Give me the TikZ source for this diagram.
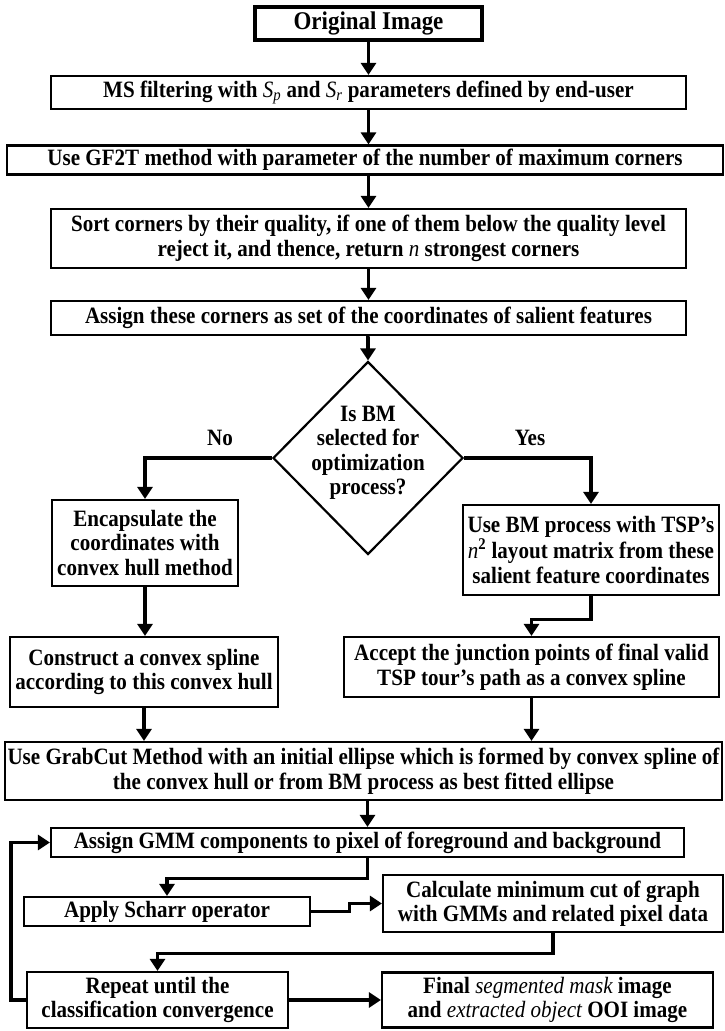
\documentclass[tikz,border=0pt]{standalone}
\usepackage{fontspec}
\setmainfont[FakeStretch=0.9]{Liberation Serif}
\usepackage{tikz}
\usetikzlibrary{arrows.meta}
\usetikzlibrary{shapes.geometric}

\newcommand{\itm}[1]{{\mdseries\itshape #1}}

\begin{document}
\begin{tikzpicture}[x=1pt,y=-1pt,
  txt/.style={font=\fontsize{23.4}{24.5}\selectfont\bfseries,align=center},
  box/.style={txt,draw,line width=2.2pt,inner sep=0pt},
  flow/.style={line width=3.2pt,-{Triangle[length=12pt,width=15pt]}}]
\fill[white] (0,0) rectangle (725,1031);
\useasboundingbox (0,0) rectangle (725,1031);

% main column
\node[box,line width=3.2pt,font=\fontsize{25.5}{26}\selectfont\bfseries,
  minimum width=227,minimum height=33] (orig) at (368.5,23.5) {Original Image};
\node[box,minimum width=635,minimum height=33] (ms) at (368.5,92.5)
  {MS filtering with \itm{S\textsubscript{p}} and \itm{S\textsubscript{r}} parameters defined by end-user};
\node[box,minimum width=716,minimum height=29] (gf) at (365,160)
  {Use GF2T method with parameter of the number of maximum corners};
\node[box,minimum width=635,minimum height=59] (sort) at (368.5,238.5)
  {Sort corners by their quality, if one of them below the quality level\\
   reject it, and thence, return \itm{n} strongest corners};
\node[box,minimum width=635,minimum height=34] (assign) at (368.5,318)
  {Assign these corners as set of the coordinates of salient features};

% decision
\node[draw,diamond,line width=2.2pt,minimum width=190,minimum height=193,inner sep=0pt] (dec) at (368,458) {};
\node[txt] (dectxt) at (368,453) {Is BM\\selected for\\optimization\\process?};
\node[txt] (no) at (220,438) {No};
\node[txt] (yes) at (530,438) {Yes};

% two branches
\node[box,minimum width=186,minimum height=86] (enc) at (145,543)
  {Encapsulate the\\coordinates with\\convex hull method};
\node[box,minimum width=256,minimum height=90] (bm) at (591,550)
  {Use BM process with TSP’s\\\itm{n}\textsuperscript{2} layout matrix from these\\salient feature coordinates};
\node[box,minimum width=268,minimum height=70] (cons) at (144,672)
  {Construct a convex spline\\according to this convex hull};
\node[box,minimum width=375,minimum height=60] (acc) at (531.5,667)
  {Accept the junction points of final valid\\TSP tour’s path as a convex spline};

% grabcut loop
\node[box,minimum width=717,minimum height=58] (grab) at (363.5,771)
  {Use GrabCut Method with an initial ellipse which is formed by convex spline of\\
   the convex hull or from BM process as best fitted ellipse};
\node[box,minimum width=633,minimum height=29] (gmm) at (367.5,842.5)
  {Assign GMM components to pixel of foreground and background};
\node[box,minimum width=286,minimum height=29] (scharr) at (167,911.5) {Apply Scharr operator};
\node[box,minimum width=340,minimum height=57] (calc) at (553,903.5)
  {Calculate minimum cut of graph\\with GMMs and related pixel data};
\node[box,minimum width=261,minimum height=56] (rep) at (157.5,1000)
  {Repeat until the\\classification convergence};
\node[box,minimum width=331,minimum height=55] (fin) at (547.5,1000)
  {Final \itm{segmented mask} image\\and \itm{extracted object} OOI image};

\draw[flow] (orig) -- (ms);
\draw[flow] (ms.south) -- (ms.south |- gf.north);
\draw[flow] (gf.south -| sort.north) -- (sort.north);
\draw[flow] (sort) -- (assign);
\draw[flow] (assign.south) -- (assign.south -| dec.north) -- (dec.north);
\draw[flow] (dec.west) -| (enc.north);
\draw[flow] (dec.east) -| (bm.north);
\draw[flow] (enc.south) -- (enc.south |- cons.north);
\draw[flow] (bm.south) -- ++(0,23) -| (acc.north);
\draw[flow] (cons.south) -- (cons.south |- grab.north);
\draw[flow] (acc.south) -- (acc.south |- grab.north);
\draw[flow] (grab.south -| gmm.north) -- (gmm.north);
\draw[flow] (gmm.south) -- ++(0,20) -| (scharr.north);
\draw[flow] (scharr.east) -- ++(38,0) |- (calc.west);
\draw[flow] (calc.south) -- ++(0,20) -| (rep.north);
\draw[flow] (rep.east) -- (rep.east -| fin.west);
\draw[flow] (rep.west) -- ++(-15,0) |- (gmm.west);
\end{tikzpicture}
\end{document}
